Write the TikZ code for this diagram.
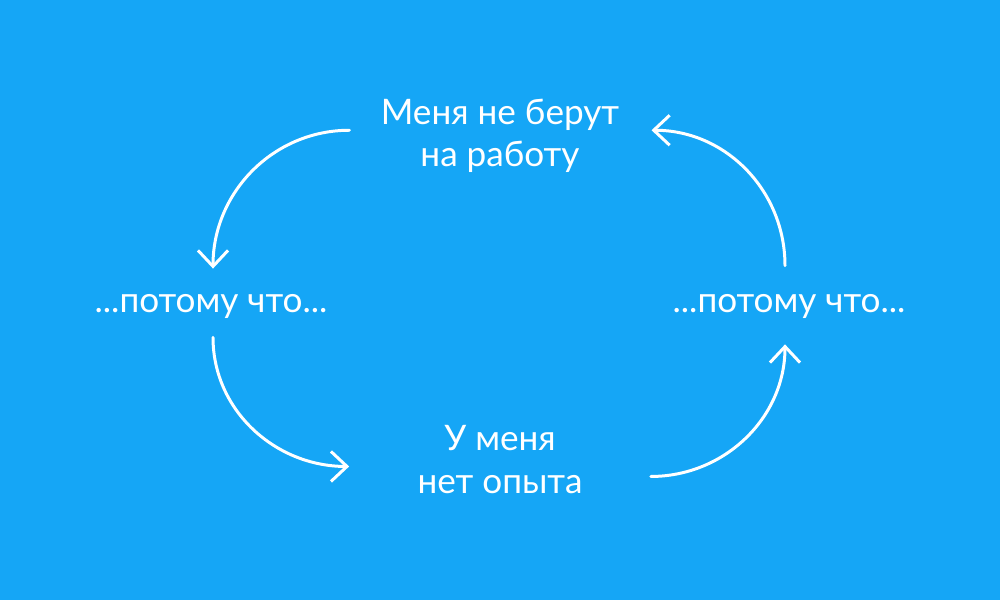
\documentclass[tikz,border=0pt]{standalone}
\usepackage{fontspec}
\setmainfont{Lato}
\usetikzlibrary{arrows.meta}
\definecolor{bgblue}{HTML}{15A6F6}
\begin{document}
\begin{tikzpicture}[
  txt/.style={text=white, font=\fontsize{20}{24}\selectfont, align=center, inner sep=0pt, anchor=base},
  arr/.style={white, line width=1.7pt, line cap=round, -{Straight Barb[length=3.2mm,width=6mm]}}]
  \fill[bgblue] (0,0) rectangle (20,12);

  \node[txt] (top) at (10,8.66) {Меня не берут\\на работу};
  \node[txt] (lft) at (4.22,5.76) {...потому что...};
  \node[txt] (rgt) at (15.78,5.76) {...потому что...};
  \node[txt] (bot) at (10,2.14) {У меня\\нет опыта};

  \draw[arr] ([xshift=-0.62cm,yshift=0.12cm]top.west) to[out=180,in=90] ([xshift=0.04cm,yshift=0.5cm]lft.north);
  \draw[arr] ([xshift=0.04cm,yshift=-0.38cm]lft.south) to[out=-90,in=180] ([xshift=-1.36cm,yshift=-0.14cm]bot.west);
  \draw[arr] ([xshift=1.36cm,yshift=-0.34cm]bot.east) to[out=0,in=-90] ([xshift=-0.08cm,yshift=-0.52cm]rgt.south);
  \draw[arr] ([xshift=-0.08cm,yshift=0.56cm]rgt.north) to[out=90,in=0] ([xshift=0.64cm,yshift=0.12cm]top.east);
\end{tikzpicture}
\end{document}
